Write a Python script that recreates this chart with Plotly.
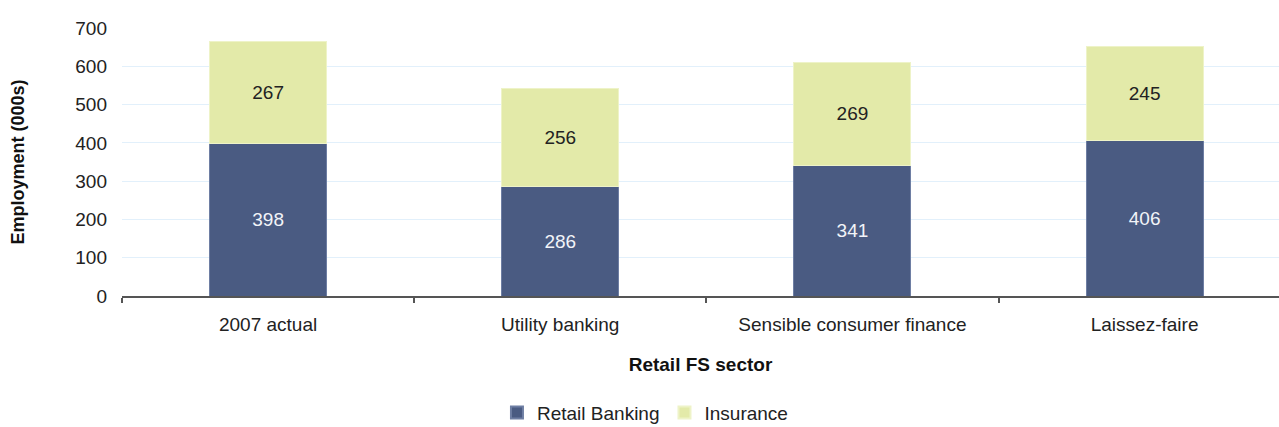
import plotly.graph_objects as go

# Employment by retail financial services scenario (thousands)
scenarios = ["2007 actual", "Utility banking", "Sensible consumer finance", "Laissez-faire"]
retail_banking = [398, 286, 341, 406]
insurance = [267, 256, 269, 245]

BANK_COLOR = "#4a5b82"
INS_COLOR = "#e3eaa9"
FONT = "Liberation Sans, Arial, sans-serif"

fig = go.Figure()
fig.add_trace(go.Bar(
    name="Retail Banking", x=scenarios, y=retail_banking,
    marker=dict(color=BANK_COLOR, line=dict(color="#6e7ea3", width=1)),
    text=retail_banking, textposition="inside", insidetextanchor="middle",
    textfont=dict(color="#f2f4f8", size=19, family=FONT),
))
fig.add_trace(go.Bar(
    name="Insurance", x=scenarios, y=insurance,
    marker=dict(color=INS_COLOR, line=dict(color="#eef3c8", width=1)),
    text=insurance, textposition="inside", insidetextanchor="middle",
    textfont=dict(color="#222222", size=19, family=FONT),
))

fig.update_layout(
    barmode="stack",
    bargap=0.6,
    width=1279, height=427,
    margin=dict(l=122, r=0, t=28, b=131, autoexpand=False),
    paper_bgcolor="white", plot_bgcolor="white",
    font=dict(family=FONT, size=18, color="#222222"),
    uniformtext=dict(mode="show", minsize=19),
    showlegend=True,
    legend=dict(
        orientation="h", x=0.452, xanchor="center", y=-0.435, yanchor="middle",
        font=dict(size=19, family=FONT, color="#222222"),
        traceorder="normal", itemwidth=30, itemsizing="constant",
    ),
    xaxis=dict(
        range=[-0.5, 3.46],
        automargin=False,
        showline=True, linecolor="#555555", linewidth=2,
        ticks="outside", ticklen=5, tickcolor="#555555", tickwidth=2,
        tickson="boundaries",
        ticklabelstandoff=10,
        showgrid=False,
        tickfont=dict(size=19, family=FONT, color="#222222"),
        title=dict(text="<b>Retail FS sector</b>", standoff=24,
                   font=dict(size=19, family=FONT, color="#111111")),
    ),
    yaxis=dict(
        range=[0, 700], dtick=100,
        automargin=False,
        showline=False, ticks="",
        showgrid=True, gridcolor="#e2f0fb", gridwidth=1,
        zeroline=False,
        tickfont=dict(size=19, family=FONT, color="#222222"),
        ticklabelstandoff=14,
        title=dict(text="<b>Employment (000s)</b>", standoff=45,
                   font=dict(size=18, family=FONT, color="#111111")),
    ),
)

fig.write_html("out.html")
